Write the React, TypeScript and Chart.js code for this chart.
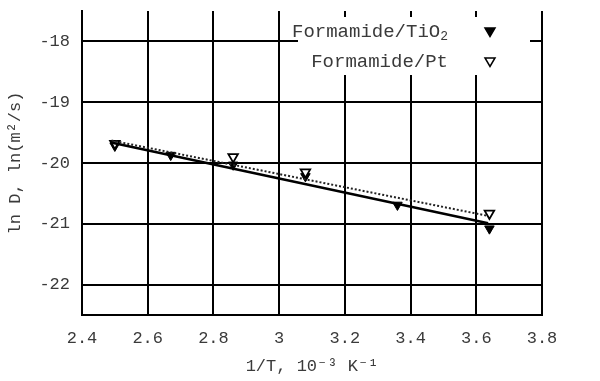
import React, { useEffect, useRef } from "react";
import { Chart, registerables } from "chart.js";

Chart.register(...registerables);

// Data
const tio2X = [2.5, 2.67, 2.86, 3.08, 3.36, 3.64];
const tio2Y = [-19.72, -19.87, -20.03, -20.22, -20.69, -21.08];
const ptX = [2.5, 2.86, 3.08, 3.64];
const ptY = [-19.68, -19.9, -20.15, -20.83];
const fitTio2X = [2.485, 3.636];
const fitTio2Y = [-19.66, -20.99];
const fitPtX = [2.49, 3.636];
const fitPtY = [-19.63, -20.87];
const xTicks = [2.4, 2.6, 2.8, 3.0, 3.2, 3.4, 3.6, 3.8];
const yTicks = [-22, -21, -20, -19, -18];
const legendLabels = ["Formamide/TiO", "Formamide/Pt"];

const FONT = "'Liberation Mono', 'DejaVu Sans Mono', monospace";
const TEXT = "#3a3a3a";

const toPts = (xs: number[], ys: number[]) => xs.map((x, i) => ({ x, y: ys[i] }));

const legendPlugin = {
  id: "insideLegend",
  afterDraw(chart: any) {
    const { ctx, chartArea } = chart;
    const r = chartArea.right;
    const t = chartArea.top;
    ctx.save();
    ctx.fillStyle = "#ffffff";
    ctx.fillRect(r - 244, t + 6, 232, 58);
    ctx.fillStyle = TEXT;
    ctx.textBaseline = "middle";
    ctx.textAlign = "right";
    ctx.font = `13px ${FONT}`;
    const subW = ctx.measureText("2").width;
    ctx.fillText("2", r - 94, t + 26);
    ctx.font = `19px ${FONT}`;
    ctx.fillText(legendLabels[0], r - 94 - subW, t + 21);
    ctx.fillText(legendLabels[1], r - 94, t + 51);
    const mx = r - 52;
    const drawTri = (cy: number, filled: boolean) => {
      const s = 5;
      ctx.beginPath();
      ctx.moveTo(mx - s, cy - s * 0.8);
      ctx.lineTo(mx + s, cy - s * 0.8);
      ctx.lineTo(mx, cy + s * 0.9);
      ctx.closePath();
      ctx.fillStyle = filled ? "#000" : "#fff";
      ctx.fill();
      ctx.lineWidth = 1.5;
      ctx.strokeStyle = "#000";
      ctx.stroke();
    };
    drawTri(t + 21, true);
    drawTri(t + 51, false);
    ctx.restore();
  },
};

export default function App() {
  const ref = useRef<HTMLCanvasElement | null>(null);
  useEffect(() => {
    document.body.style.margin = "0";
    const canvas = ref.current;
    if (!canvas) return;
    const chart = new Chart(canvas, {
      type: "scatter",
      data: {
        datasets: [
          {
            label: "fit TiO2",
            data: toPts(fitTio2X, fitTio2Y),
            showLine: true,
            borderColor: "#000",
            borderWidth: 2.5,
            pointRadius: 0,
          },
          {
            label: "fit Pt",
            data: toPts(fitPtX, fitPtY),
            showLine: true,
            borderColor: "#222",
            borderWidth: 2,
            borderDash: [2, 2],
            pointRadius: 0,
          },
          {
            label: "Formamide/Pt",
            data: toPts(ptX, ptY),
            pointStyle: "triangle",
            rotation: 180,
            pointRadius: 5.5,
            backgroundColor: "#fff",
            borderColor: "#000",
            borderWidth: 1.8,
          },
          {
            label: "Formamide/TiO2",
            data: toPts(tio2X, tio2Y),
            pointStyle: "triangle",
            rotation: 180,
            pointRadius: 5.5,
            backgroundColor: "#000",
            borderColor: "#000",
            borderWidth: 1,
          },
        ],
      },
      options: {
        responsive: false,
        animation: false,
        layout: { padding: { top: 11, right: 58, left: 0, bottom: 0 } },
        plugins: { legend: { display: false }, tooltip: { enabled: false } },
        scales: {
          x: {
            type: "linear",
            min: 2.4,
            max: 3.8,
            afterBuildTicks: (s: any) => {
              s.ticks = xTicks.map((v) => ({ value: v }));
            },
            afterFit: (s: any) => {
              s.height = 66;
              s.paddingLeft = 0;
              s.paddingRight = 0;
            },
            grid: { color: "#000", lineWidth: 2, drawTicks: false },
            border: { color: "#000", width: 2 },
            ticks: {
              color: TEXT,
              padding: 13,
              font: { family: FONT, size: 17 },
              callback: (v: any) => String(Math.round(Number(v) * 10) / 10),
            },
            title: {
              display: true,
              text: "1/T, 10⁻³ K⁻¹",
              color: TEXT,
              font: { family: FONT, size: 17 },
              padding: { top: 2 },
            },
          },
          y: {
            type: "linear",
            min: -22.5,
            max: -17.5,
            afterBuildTicks: (s: any) => {
              s.ticks = yTicks.map((v) => ({ value: v }));
            },
            afterFit: (s: any) => {
              s.width = 82;
              s.paddingTop = 0;
              s.paddingBottom = 0;
            },
            grid: { color: "#000", lineWidth: 2, drawTicks: false },
            border: { color: "#000", width: 2 },
            ticks: {
              color: TEXT,
              padding: 12,
              font: { family: FONT, size: 17 },
            },
            title: {
              display: true,
              text: "ln D, ln(m²/s)",
              color: TEXT,
              font: { family: FONT, size: 17 },
              padding: { top: 5, bottom: 4 },
            },
          },
        },
      },
      plugins: [legendPlugin],
    });
    return () => chart.destroy();
  }, []);
  return (
    <div style={{ width: 600, height: 381, background: "#fff" }}>
      <canvas ref={ref} width={600} height={381} style={{ display: "block" }} />
    </div>
  );
}
